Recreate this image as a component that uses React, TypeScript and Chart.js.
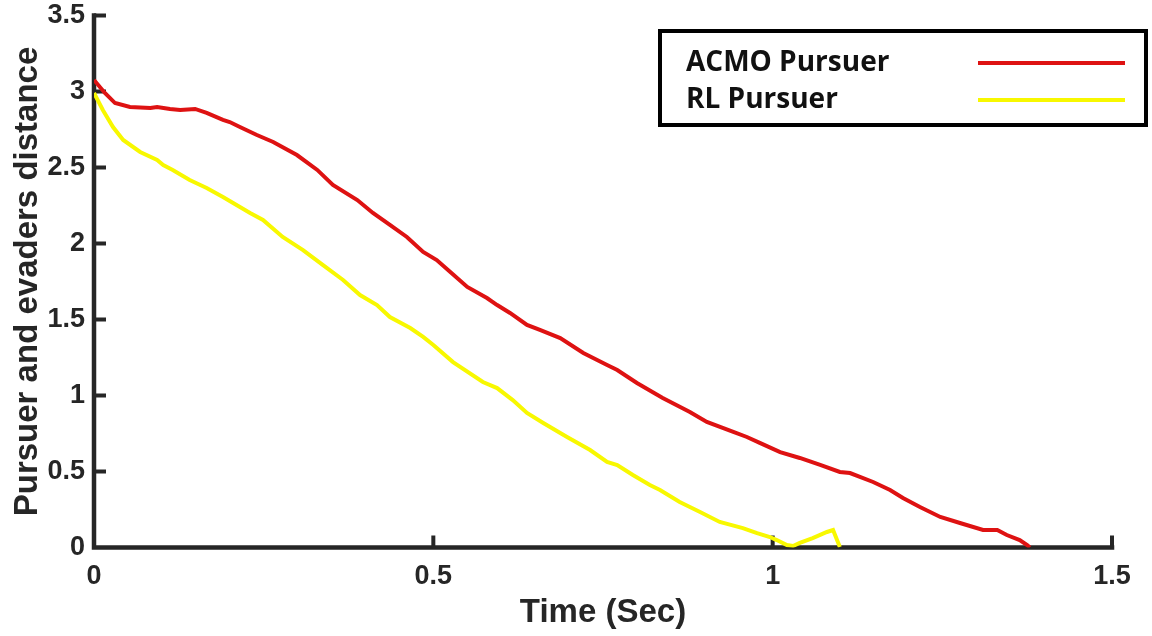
import { useEffect, useRef } from "react";
import { Chart, registerables } from "chart.js";

Chart.register(...registerables);

// Distance between pursuer and evaders over time
const acmoTime = [
  0, 0.016, 0.031, 0.053, 0.083, 0.093, 0.112, 0.127, 0.149, 0.166, 0.19, 0.2, 0.215, 0.24, 0.264,
  0.299, 0.329, 0.352, 0.388, 0.411, 0.436, 0.461, 0.485, 0.505, 0.525, 0.55, 0.579, 0.594, 0.613,
  0.638, 0.657, 0.687, 0.721, 0.756, 0.771, 0.8, 0.838, 0.878, 0.903, 0.942, 0.962, 0.981, 1.011,
  1.04, 1.07, 1.099, 1.114, 1.148, 1.173, 1.192, 1.217, 1.247, 1.276, 1.31, 1.331, 1.345, 1.364,
  1.375, 1.379,
];
const acmoDistance = [
  3.076, 2.99, 2.924, 2.898, 2.891, 2.898, 2.885, 2.878, 2.885, 2.859, 2.813, 2.799, 2.766, 2.714,
  2.668, 2.582, 2.484, 2.385, 2.286, 2.201, 2.122, 2.043, 1.944, 1.891, 1.813, 1.714, 1.641, 1.595,
  1.543, 1.464, 1.431, 1.378, 1.28, 1.201, 1.168, 1.082, 0.984, 0.891, 0.826, 0.76, 0.727, 0.688,
  0.628, 0.589, 0.543, 0.497, 0.49, 0.431, 0.378, 0.326, 0.266, 0.201, 0.161, 0.115, 0.115, 0.082,
  0.049, 0.016, 0.0,
];

const rlTime = [
  0, 0.013, 0.028, 0.043, 0.068, 0.093, 0.102, 0.116, 0.141, 0.166, 0.19, 0.205, 0.23, 0.249, 0.278,
  0.308, 0.337, 0.367, 0.392, 0.417, 0.436, 0.466, 0.485, 0.5, 0.529, 0.573, 0.594, 0.617, 0.638,
  0.662, 0.697, 0.731, 0.756, 0.771, 0.794, 0.819, 0.834, 0.863, 0.893, 0.922, 0.956, 0.977, 0.996,
  1.006, 1.021, 1.03, 1.04, 1.059, 1.08, 1.089, 1.099,
];
const rlDistance = [
  2.99, 2.878, 2.766, 2.681, 2.602, 2.549, 2.516, 2.484, 2.418, 2.365, 2.306, 2.266, 2.201, 2.155,
  2.043, 1.957, 1.859, 1.76, 1.661, 1.595, 1.516, 1.444, 1.385, 1.332, 1.22, 1.089, 1.049, 0.97,
  0.885, 0.819, 0.727, 0.641, 0.563, 0.543, 0.477, 0.411, 0.378, 0.299, 0.234, 0.168, 0.128, 0.095,
  0.069, 0.049, 0.016, 0.01, 0.03, 0.062, 0.102, 0.115, 0.003,
];

const seriesNames = ["ACMO Pursuer", "RL Pursuer"];
const seriesColors = ["#de1212", "#f8f800"];
const xTickValues = [0, 0.5, 1, 1.5];
const yTickValues = [0, 0.5, 1, 1.5, 2, 2.5, 3, 3.5];

const AXIS_COLOR = "#262626";
const TICK_FONT = { family: "'Liberation Sans', Arial, sans-serif", size: 27, weight: "bold" as const };
const TITLE_FONT = { family: "'Liberation Sans', Arial, sans-serif", size: 33, weight: "bold" as const };

// Axis lines with inward-pointing tick marks, drawn beneath the data lines
const insideAxes = {
  id: "insideAxes",
  beforeDatasetsDraw(chart: any) {
    const { ctx, scales } = chart;
    const xs = scales.x;
    const ys = scales.y;
    const x0 = xs.getPixelForValue(0);
    const y0 = ys.getPixelForValue(0);
    const xEnd = xs.getPixelForValue(xTickValues[xTickValues.length - 1]);
    const yTop = ys.getPixelForValue(yTickValues[yTickValues.length - 1]);
    const tickLen = 12;
    ctx.save();
    ctx.strokeStyle = AXIS_COLOR;
    ctx.lineWidth = 4.5;
    ctx.lineJoin = "miter";
    ctx.lineCap = "square";
    ctx.beginPath();
    ctx.moveTo(x0, yTop);
    ctx.lineTo(x0, y0);
    ctx.lineTo(xEnd, y0);
    ctx.stroke();
    ctx.lineWidth = 4;
    ctx.lineCap = "butt";
    ctx.beginPath();
    for (const v of yTickValues) {
      if (v === 0) continue;
      const py = ys.getPixelForValue(v);
      ctx.moveTo(x0, py);
      ctx.lineTo(x0 + tickLen, py);
    }
    for (const v of xTickValues) {
      if (v === 0) continue;
      const px = xs.getPixelForValue(v);
      ctx.moveTo(px, y0);
      ctx.lineTo(px, y0 - tickLen);
    }
    ctx.stroke();
    ctx.restore();
  },
};

// Boxed legend in the upper right: label on the left, line sample on the right
const boxedLegend = {
  id: "boxedLegend",
  afterDraw(chart: any) {
    const { ctx } = chart;
    const left = 660;
    const top = 31;
    const width = 486;
    const height = 94;
    ctx.save();
    ctx.strokeStyle = "#000";
    ctx.lineWidth = 4;
    ctx.strokeRect(left, top, width, height);
    ctx.font = "bold 28px 'Open Sans', sans-serif";
    ctx.fillStyle = "#111";
    ctx.textBaseline = "alphabetic";
    ctx.textAlign = "left";
    chart.data.datasets.forEach((ds: any, i: number) => {
      const rowY = top + 32 + i * 37;
      ctx.fillText(ds.label, left + 26, rowY + 8);
      ctx.strokeStyle = ds.borderColor;
      ctx.lineWidth = 4;
      ctx.beginPath();
      ctx.moveTo(978, rowY);
      ctx.lineTo(1125, rowY);
      ctx.stroke();
    });
    ctx.restore();
  },
};

export default function App() {
  const canvasRef = useRef<HTMLCanvasElement | null>(null);

  useEffect(() => {
    if (!canvasRef.current) return;
    const chart = new Chart(canvasRef.current, {
      type: "line",
      data: {
        datasets: [
          {
            label: seriesNames[0],
            data: acmoTime.map((t, i) => ({ x: t, y: acmoDistance[i] })),
            borderColor: seriesColors[0],
            borderWidth: 4,
            pointRadius: 0,
            tension: 0,
            fill: false,
          },
          {
            label: seriesNames[1],
            data: rlTime.map((t, i) => ({ x: t, y: rlDistance[i] })),
            borderColor: seriesColors[1],
            borderWidth: 4,
            pointRadius: 0,
            tension: 0,
            fill: false,
          },
        ],
      },
      options: {
        animation: false,
        responsive: true,
        maintainAspectRatio: false,
        layout: { padding: { top: 15.5, right: 40, left: 0, bottom: 0 } },
        plugins: {
          legend: { display: false },
          tooltip: { enabled: false },
        },
        scales: {
          x: {
            type: "linear",
            min: 0,
            max: 1.5,
            afterBuildTicks: (scale: any) => {
              scale.ticks = xTickValues.map((v) => ({ value: v }));
            },
            afterFit: (scale: any) => {
              scale.height = 88.5;
              scale.paddingLeft = 0;
              scale.paddingRight = 0;
            },
            grid: { display: false, drawTicks: false },
            border: { display: false },
            ticks: {
              color: AXIS_COLOR,
              font: TICK_FONT,
              padding: 13,
              maxRotation: 0,
              callback: (v: any) => String(v),
            },
            title: {
              display: true,
              text: "Time (Sec)",
              color: AXIS_COLOR,
              font: TITLE_FONT,
              padding: { top: 0, bottom: 3 },
            },
          },
          y: {
            type: "linear",
            min: 0,
            max: 3.5,
            afterBuildTicks: (scale: any) => {
              scale.ticks = yTickValues.map((v) => ({ value: v }));
            },
            afterFit: (scale: any) => {
              scale.width = 94;
              scale.paddingTop = 0;
              scale.paddingBottom = 0;
            },
            grid: { display: false, drawTicks: false },
            border: { display: false },
            ticks: {
              color: AXIS_COLOR,
              font: TICK_FONT,
              padding: 9,
              callback: (v: any) => String(v),
            },
            title: {
              display: true,
              text: "Pursuer and evaders distance",
              color: AXIS_COLOR,
              font: TITLE_FONT,
              padding: { top: 8, bottom: 0 },
            },
          },
        },
      },
      plugins: [insideAxes, boxedLegend],
    });
    return () => chart.destroy();
  }, []);

  return (
    <div
      style={{
        position: "fixed",
        left: 0,
        top: 0,
        width: 1152,
        height: 636,
        background: "#fff",
      }}
    >
      <canvas ref={canvasRef} />
    </div>
  );
}
